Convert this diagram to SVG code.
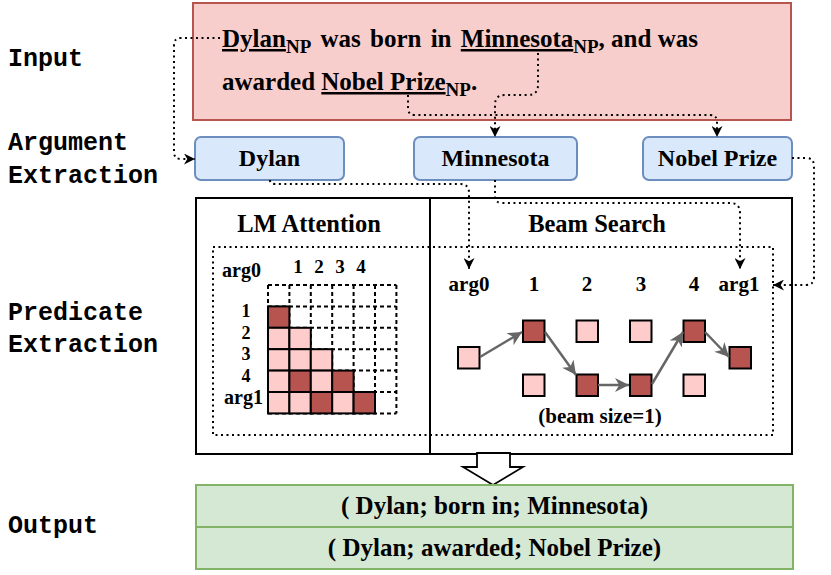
<svg xmlns="http://www.w3.org/2000/svg" width="831" height="575" viewBox="0 0 831 575">
<defs>
<marker id="ah" viewBox="0 0 10 10" refX="10" refY="5" markerWidth="11" markerHeight="11" markerUnits="userSpaceOnUse" orient="auto">
<path d="M0,0 L10,5 L0,10 L3,5 z" fill="#000"/>
</marker>
<marker id="gh" viewBox="0 0 10 10" refX="10" refY="5" markerWidth="14" markerHeight="14" markerUnits="userSpaceOnUse" orient="auto">
<path d="M0,0 L10,5 L0,10 L3,5 z" fill="#666"/>
</marker>
<style>
.lbl{font-family:"Liberation Mono","Courier New",monospace;font-weight:bold;font-size:25px;fill:#000}
.t{font-family:"Liberation Serif","Times New Roman",serif;font-weight:bold;fill:#000}
.dot{fill:none;stroke:#000;stroke-width:2;stroke-dasharray:2 3.5}
.conn{fill:none;stroke:#000;stroke-width:2;stroke-dasharray:2 3.5;marker-end:url(#ah)}
.arg{fill:#dae8fc;stroke:#6c8ebf;stroke-width:2}
.dk{fill:#b85450;stroke:#000;stroke-width:2}
.lt{fill:#ffcccc;stroke:#000;stroke-width:2}
.grid{stroke:#000;stroke-width:2;stroke-dasharray:4 3;fill:none}
.ga{fill:none;stroke:#666;stroke-width:2.5;marker-end:url(#gh)}
.out{fill:#d5e8d4;stroke:#82b366;stroke-width:2}
</style>
</defs>

<g id="stage-labels">
<text class="lbl" x="8" y="66">Input</text>
<text class="lbl" x="8" y="150">Argument</text>
<text class="lbl" x="8" y="183">Extraction</text>
<text class="lbl" x="8" y="320">Predicate</text>
<text class="lbl" x="8" y="352">Extraction</text>
<text class="lbl" x="8" y="533">Output</text>
</g>

<g id="input">
<rect x="193" y="3" width="598" height="117" fill="#f8cecc" stroke="#b85450" stroke-width="2"/>
<text class="t" font-size="25" x="222" y="47"><tspan text-decoration="underline">Dylan</tspan><tspan font-size="19" dy="6">NP</tspan><tspan dy="-6" word-spacing="3"> was born in </tspan><tspan text-decoration="underline">Minnesota</tspan><tspan font-size="19" dy="6">NP</tspan><tspan dy="-6">, and was</tspan></text>
<text class="t" font-size="25" x="222" y="90">awarded <tspan text-decoration="underline">Nobel Prize</tspan><tspan font-size="19" dy="6">NP</tspan><tspan dy="-6">.</tspan></text>
</g>

<g id="arg-dylan">
<rect class="arg" x="195" y="137" width="149" height="43" rx="6"/>
<text class="t" font-size="24" x="269.5" y="166" text-anchor="middle">Dylan</text>
</g>
<g id="arg-minnesota">
<rect class="arg" x="414" y="137" width="163" height="43" rx="6"/>
<text class="t" font-size="24" x="495.5" y="166" text-anchor="middle">Minnesota</text>
</g>
<g id="arg-nobel">
<rect class="arg" x="643" y="137" width="149" height="43" rx="6"/>
<text class="t" font-size="24" x="717.5" y="166" text-anchor="middle">Nobel Prize</text>
</g>

<g id="predicate-frame">
<rect x="196" y="198" width="596" height="256" fill="#fff" stroke="#000" stroke-width="2"/>
<line x1="430" y1="198" x2="430" y2="454" stroke="#000" stroke-width="2"/>
<rect class="dot" x="213" y="247" width="560" height="188"/>
</g>

<g id="lm-attention">
<text class="t" font-size="24.5" x="309" y="232" text-anchor="middle">LM Attention</text>
<text class="t" font-size="20" x="222" y="277">arg0</text>
<text class="t" font-size="19" x="298" y="273" text-anchor="middle">1</text>
<text class="t" font-size="19" x="319" y="273" text-anchor="middle">2</text>
<text class="t" font-size="19" x="340" y="273" text-anchor="middle">3</text>
<text class="t" font-size="19" x="361" y="273" text-anchor="middle">4</text>
<text class="t" font-size="18" x="246" y="317" text-anchor="middle">1</text>
<text class="t" font-size="18" x="246" y="338.5" text-anchor="middle">2</text>
<text class="t" font-size="18" x="246" y="360" text-anchor="middle">3</text>
<text class="t" font-size="18" x="246" y="381.5" text-anchor="middle">4</text>
<text class="t" font-size="20" x="263" y="404" text-anchor="end">arg1</text>
<path class="grid" d="M268,285 H396.4 M268,306.4 H396.4 M268,327.8 H396.4 M268,349.2 H396.4 M268,370.6 H396.4 M268,392 H396.4 M268,413.4 H396.4 M268,285 V413.4 M289.4,285 V413.4 M310.8,285 V413.4 M332.2,285 V413.4 M353.6,285 V413.4 M375,285 V413.4 M396.4,285 V413.4"/>
<rect class="dk" x="268" y="306.4" width="21.4" height="21.4"/>
<rect class="lt" x="268" y="327.8" width="21.4" height="21.4"/>
<rect class="lt" x="289.4" y="327.8" width="21.4" height="21.4"/>
<rect class="lt" x="268" y="349.2" width="21.4" height="21.4"/>
<rect class="lt" x="289.4" y="349.2" width="21.4" height="21.4"/>
<rect class="lt" x="310.8" y="349.2" width="21.4" height="21.4"/>
<rect class="lt" x="268" y="370.6" width="21.4" height="21.4"/>
<rect class="dk" x="289.4" y="370.6" width="21.4" height="21.4"/>
<rect class="lt" x="310.8" y="370.6" width="21.4" height="21.4"/>
<rect class="dk" x="332.2" y="370.6" width="21.4" height="21.4"/>
<rect class="lt" x="268" y="392" width="21.4" height="21.4"/>
<rect class="lt" x="289.4" y="392" width="21.4" height="21.4"/>
<rect class="dk" x="310.8" y="392" width="21.4" height="21.4"/>
<rect class="lt" x="332.2" y="392" width="21.4" height="21.4"/>
<rect class="dk" x="353.6" y="392" width="21.4" height="21.4"/>
</g>

<g id="beam-search">
<text class="t" font-size="24.5" x="597" y="232" text-anchor="middle">Beam Search</text>
<text class="t" font-size="21" x="469" y="291" text-anchor="middle">arg0</text>
<text class="t" font-size="21" x="534" y="291" text-anchor="middle">1</text>
<text class="t" font-size="21" x="587" y="291" text-anchor="middle">2</text>
<text class="t" font-size="21" x="641" y="291" text-anchor="middle">3</text>
<text class="t" font-size="21" x="694" y="291" text-anchor="middle">4</text>
<text class="t" font-size="21" x="739" y="291" text-anchor="middle">arg1</text>
<rect class="lt" x="458" y="347" width="21.5" height="21.5"/>
<rect class="dk" x="523" y="320.5" width="21.5" height="21.5"/>
<rect class="lt" x="523" y="374.5" width="21.5" height="21.5"/>
<rect class="lt" x="576.5" y="320.5" width="21.5" height="21.5"/>
<rect class="dk" x="576.5" y="374.5" width="21.5" height="21.5"/>
<rect class="lt" x="630" y="320.5" width="21.5" height="21.5"/>
<rect class="dk" x="630" y="374.5" width="21.5" height="21.5"/>
<rect class="dk" x="683.5" y="320.5" width="21.5" height="21.5"/>
<rect class="lt" x="683.5" y="374.5" width="21.5" height="21.5"/>
<rect class="dk" x="729.5" y="347" width="21.5" height="21.5"/>
<line class="ga" x1="480" y1="357" x2="522" y2="332"/>
<line class="ga" x1="545" y1="332" x2="576" y2="375"/>
<line class="ga" x1="598" y1="385" x2="629" y2="385"/>
<line class="ga" x1="652" y1="384" x2="683" y2="332"/>
<line class="ga" x1="705" y1="332" x2="729" y2="357"/>
<text class="t" font-size="21" x="600" y="423" text-anchor="middle">(beam size=1)</text>
</g>

<g id="flow-arrow">
<polygon points="477,453 510,453 510,467 523,467 493,485 463,467 477,467" fill="#fff" stroke="#000" stroke-width="1.8" stroke-linejoin="miter"/>
</g>

<g id="output">
<rect class="out" x="196" y="485" width="597" height="42"/>
<rect class="out" x="196" y="527" width="597" height="42"/>
<text class="t" font-size="25" x="494.5" y="514" text-anchor="middle">( Dylan; born in; Minnesota)</text>
<text class="t" font-size="25" x="494.5" y="556" text-anchor="middle">( Dylan; awarded; Nobel Prize)</text>
</g>

<g id="connectors">
<path class="conn" d="M220,38 H181 Q174,38 174,45 V152 Q174,159 181,159 H195"/>
<path class="conn" d="M538,53 V85 Q538,95 528,95 H505 Q495,95 495,105 V137"/>
<path class="conn" d="M408,95 V108 Q408,115 415,115 H710 Q717,115 717,122 V137"/>
<path class="conn" d="M270,180 Q270,184 275,184 H460 Q469,184 469,193 V269"/>
<path class="conn" d="M495,180 V196 Q495,203 502,203 H730 Q740,203 740,213 V269"/>
<path class="conn" d="M792,158 H806 Q814,158 814,166 V277 Q814,285 806,285 H773"/>
</g>
</svg>
